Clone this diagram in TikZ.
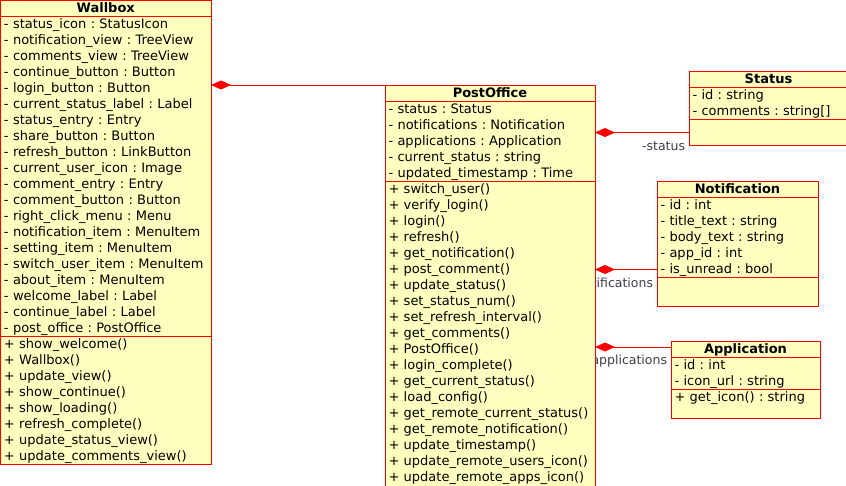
\documentclass[tikz,border=0pt]{standalone}
\usepackage{fontspec}
\setmainfont{DejaVu Sans}
\usepackage{tikz}
\usetikzlibrary{
    arrows.meta,
    positioning,
    calc,
    backgrounds
}
\frenchspacing
\definecolor{umlRed}{HTML}{FF0000}
\definecolor{umlFill}{HTML}{FFFFC0}
\definecolor{umlInk}{HTML}{3D3D4D}
\tikzset{
    umlTitle/.style={
        draw=umlRed,
        fill=umlFill,
        line width=1pt,
        outer sep=0pt,
        inner xsep=3.5pt,
        inner ysep=0pt,
        text width=#1,
        align=center,
        text height=12pt,
        text depth=4pt,
        font=\fontsize{13pt}{16pt}\selectfont\bfseries
    },
    umlPart/.style 2 args={
        draw=umlRed,
        fill=umlFill,
        line width=1pt,
        outer sep=0pt,
        inner xsep=3.5pt,
        inner ysep=0pt,
        text width=#1,
        align=left,
        text height=12pt,
        text depth=#2,
        font=\fontsize{13pt}{16pt}\selectfont
    },
    umlComp/.style={{Diamond[length=20pt,width=9pt]}-,line width=1pt,draw=umlRed},
    umlLabel/.style={text=umlInk,inner sep=0pt,font=\fontsize{12.5pt}{16pt}\selectfont}
}

\begin{document}
\begin{tikzpicture}[x=1pt,y=-1pt]
        \useasboundingbox (0,0) rectangle (846,485);
        \clip (0,0) rectangle (846,485);

        % Wallbox
        \node[umlTitle={203.5pt},anchor=north west] (wbTitle) at (0.5,0.5) {Wallbox};
        \node[umlPart={203.5pt}{308pt},below=0pt of wbTitle] (wbAttr)
            {- status\_icon : StatusIcon\\- notification\_view : TreeView\\- comments\_view : TreeView\\
             - continue\_button : Button\\- login\_button : Button\\- current\_status\_label : Label\\
             - status\_entry : Entry\\- share\_button : Button\\- refresh\_button : LinkButton\\
             - current\_user\_icon : Image\\- comment\_entry : Entry\\- comment\_button : Button\\
             - right\_click\_menu : Menu\\- notification\_item : MenuItem\\- setting\_item : MenuItem\\
             - switch\_user\_item : MenuItem\\- about\_item : MenuItem\\- welcome\_label : Label\\
             - continue\_label : Label\\- post\_office : PostOffice};
        \node[umlPart={203.5pt}{116pt},below=0pt of wbAttr] (wbOps)
            {+ show\_welcome()\\+ Wallbox()\\+ update\_view()\\+ show\_continue()\\
             + show\_loading()\\+ refresh\_complete()\\+ update\_status\_view()\\
             + update\_comments\_view()};

        % PostOffice
        \node[umlTitle={203pt},anchor=north west] (poTitle) at (385,85) {PostOffice};
        \node[umlPart={203pt}{68pt},below=0pt of poTitle] (poAttr)
            {- status : Status\\- notifications : Notification\\- applications : Application\\
             - current\_status : string\\- updated\_timestamp : Time};
        \node[umlPart={203pt}{300pt},below=0pt of poAttr] (poOps)
            {+ switch\_user()\\+ verify\_login()\\+ login()\\+ refresh()\\+ get\_notification()\\
             + post\_comment()\\+ update\_status()\\+ set\_status\_num()\\+ set\_refresh\_interval()\\
             + get\_comments()\\+ PostOffice()\\+ login\_complete()\\+ get\_current\_status()\\
             + load\_config()\\+ get\_remote\_current\_status()\\+ get\_remote\_notification()\\
             + update\_timestamp()\\+ update\_remote\_users\_icon()\\+ update\_remote\_apps\_icon()};

        % Status
        \node[umlTitle={152pt},anchor=north west] (stTitle) at (689,71.5) {Status};
        \node[umlPart={152pt}{20pt},below=0pt of stTitle] (stAttr)
            {- id : string\\- comments : string[]};
        \node[umlPart={152pt}{14pt},below=0pt of stAttr] (stOps) {};

        % Notification
        \node[umlTitle={154pt},anchor=north west] (ntTitle) at (657,181.5) {Notification};
        \node[umlPart={154pt}{68pt},below=0pt of ntTitle] (ntAttr)
            {- id : int\\- title\_text : string\\- body\_text : string\\- app\_id : int\\
             - is\_unread : bool};
        \node[umlPart={154pt}{17pt},below=0pt of ntAttr] (ntOps) {};

        % Application
        \node[umlTitle={142pt},anchor=north west] (apTitle) at (671,341) {Application};
        \node[umlPart={142pt}{20pt},below=0pt of apTitle] (apAttr)
            {- id : int\\- icon\_url : string};
        \node[umlPart={142pt}{17pt},below=0pt of apAttr] (apOps)
            {+ get\_icon() : string};

        \coordinate (ntLink) at ($(ntAttr.south west)+(0,-8)$);
        \coordinate (apLink) at ($(apTitle.west)+(0,-2)$);

        % compositions
        \begin{scope}[on background layer]
            \draw[umlComp] (wbAttr.east |- poTitle.north) -- (poTitle.north west);
            \draw[umlComp] (poAttr.east |- stOps.west) -- (stOps.west)
                node[umlLabel,anchor=base east,xshift=-3.5pt,yshift=-17.5pt] {-status};
            \draw[umlComp] (poOps.east |- ntLink) -- (ntLink)
                node[umlLabel,anchor=base east,xshift=-3.5pt,yshift=-17.5pt] {-notifications};
            \draw[umlComp] (poOps.east |- apLink) -- (apLink)
                node[umlLabel,anchor=base east,xshift=-3.5pt,yshift=-17.5pt] {-applications};
        \end{scope}
    \end{tikzpicture}
\end{document}
